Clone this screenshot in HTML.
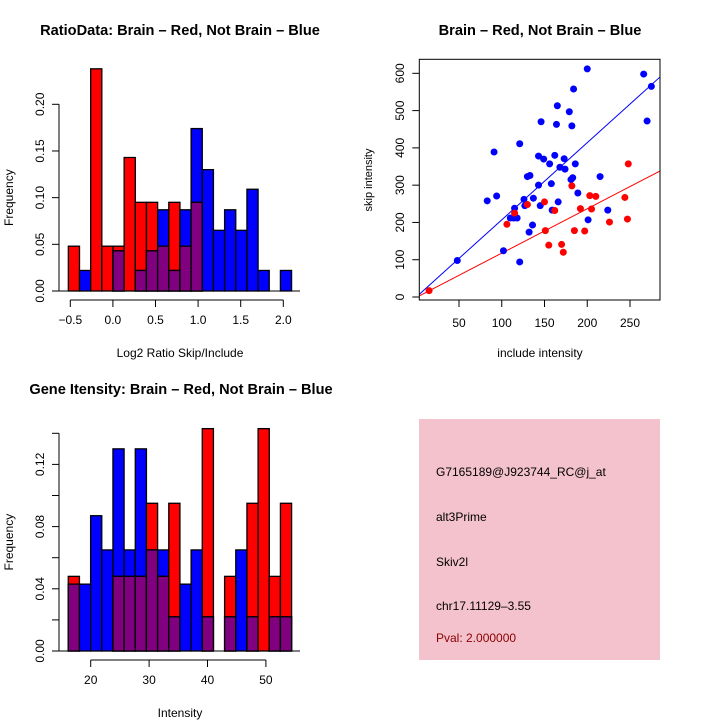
<!DOCTYPE html>
<html><head><meta charset="utf-8"><style>
html,body{margin:0;padding:0;background:#fff}
svg{display:block;font-family:"Liberation Sans",sans-serif}
</style></head><body>
<svg id="c" width="720" height="720" viewBox="0 0 720 720">
<rect width="720" height="720" fill="#fff"/>
<text x="180" y="35" text-anchor="middle" font-size="14.6" font-weight="bold">RatioData: Brain – Red, Not Brain – Blue</text>
<text x="540" y="35" text-anchor="middle" font-size="14.6" font-weight="bold">Brain – Red, Not Brain – Blue</text>
<text x="181" y="394" text-anchor="middle" font-size="14.6" font-weight="bold">Gene Itensity: Brain – Red, Not Brain – Blue</text>
<g id="g1"></g>
<g id="g2"></g>
<g id="g3"></g>
<g>
<rect x="419" y="419" width="241" height="241" fill="#f4c2cd"/>
<text x="436" y="476" font-size="12">G7165189@J923744_RC@j_at</text>
<text x="436" y="521" font-size="12">alt3Prime</text>
<text x="436" y="566" font-size="12">Skiv2l</text>
<text x="436" y="610" font-size="12">chr17.11129–3.55</text>
<text x="436" y="642" font-size="12" fill="#8b0000">Pval: 2.000000</text>
</g>
</svg>
<script>
// Ratio histogram data
const ratioRed=[0.048,0,0.238,0.048,0.048,0.143,0.095,0.095,0.048,0.095,0.048,0.095,0,0,0,0,0,0,0,0];
const ratioBlue=[0,0.022,0,0,0.043,0,0.022,0.043,0.087,0.022,0.087,0.174,0.13,0.065,0.087,0.065,0.109,0.022,0,0.022];
const ratioStart=-0.523, ratioBinW=0.131;
const ratioXTicks=[-0.5,0,0.5,1,1.5,2];
const ratioXLabels=["−0.5","0.0","0.5","1.0","1.5","2.0"];
const ratioYTicks=[0,0.05,0.1,0.15,0.2];
const ratioYLabels=["0.00","0.05","0.10","0.15","0.20"];
// Intensity histogram data
const intRed=[0.048,0,0,0,0.048,0.048,0.048,0.095,0.048,0.095,0,0,0.143,0,0.048,0,0.095,0.143,0.048,0.095];
const intBlue=[0.043,0.043,0.087,0.065,0.13,0.065,0.13,0.065,0.065,0.022,0.043,0.065,0.022,0,0.022,0.065,0.022,0,0.022,0.022];
const intStart=16.16, intBinW=1.912;
const intXTicks=[20,30,40,50];
const intXLabels=["20","30","40","50"];
const intYTicks=[0,0.02,0.04,0.06,0.08,0.1,0.12,0.14];
const intYLabels=["0.00","","0.04","","0.08","","0.12",""];
// Scatter data
const blueX=[200,266,275,184,165,179,146,164,182,270,121,91,143,162,149,173,156,168,174,186,130,133,215,183,181,158,143,189,94,83,126,137,166,145,127,115,159,224,110,118,114,201,136,132,102,48,121];
const blueY=[612,598,565,558,513,497,470,463,459,472,411,389,378,380,370,371,357,348,343,357,323,326,323,320,315,304,300,279,271,258,262,265,255,245,245,238,233,233,212,212,212,207,193,174,124,98,94];
const redX=[248,182,244,203,210,150,130,192,205,162,115,106,151,185,197,226,247,155,170,172,15];
const redY=[357,298,267,272,270,255,248,237,236,232,225,195,178,178,177,201,209,139,141,120,17];
const blueFit=[0,2.07]; // intercept, slope
const redFit=[-1.3,1.19];
const scXTicks=[50,100,150,200,250];
const scYTicks=[0,100,200,300,400,500,600];

const NS="http://www.w3.org/2000/svg";
function mk(p,t,a,name){const e=document.createElementNS(NS,t);for(const k in a)e.setAttribute(k,a[k]);


p.appendChild(e);return e;}

function hist(g,red,blue,start,bw,x,y,xt,xl,yt,yl,xAxisY,yTop,xlab,xlabY,pref){
  red.forEach((r,i)=>{
    const b=blue[i],x0=x(start+i*bw),x1=x(start+(i+1)*bw),w=x1-x0;
    const order=r>=b?[[r,'#ff0000',pref+'-red-bar'],[b,'#0000ff',pref+'-blue-bar']]:[[b,'#0000ff',pref+'-blue-bar'],[r,'#ff0000',pref+'-red-bar']];
    order.forEach(([v,c,n])=>{if(v>0)mk(g,'rect',{x:x0,y:y(v),width:w,height:y(0)-y(v),fill:c,stroke:'#000','stroke-width':1.3},n);});
    const m=Math.min(r,b);
    if(m>0)mk(g,'rect',{x:x0,y:y(m),width:w,height:y(0)-y(m),fill:'#800080',stroke:'#000','stroke-width':1.3},pref+'-overlap-bar');
  });
  mk(g,'line',{x1:59,x2:300,y1:y(0),y2:y(0),stroke:'#000'},pref+'-baseline');
  mk(g,'line',{x1:59,x2:59,y1:y(0),y2:y(yTop),stroke:'#000'},pref+'-y-axis');
  yt.forEach((v,i)=>{mk(g,'line',{x1:52,x2:59,y1:y(v),y2:y(v),stroke:'#000'},pref+'-y-tick');
    if(yl[i]){const t=mk(g,'text',{x:0,y:0,transform:`translate(44,${y(v)}) rotate(-90)`,'text-anchor':'middle','font-size':12},pref+'-y-tick-label');t.textContent=yl[i];}});
  mk(g,'line',{x1:x(xt[0]),x2:x(xt[xt.length-1]),y1:xAxisY,y2:xAxisY,stroke:'#000'},pref+'-x-axis');
  xt.forEach((v,i)=>{mk(g,'line',{x1:x(v),x2:x(v),y1:xAxisY,y2:xAxisY+7,stroke:'#000'},pref+'-x-tick');
    const t=mk(g,'text',{x:x(v),y:xAxisY+24,'text-anchor':'middle','font-size':12},pref+'-x-tick-label');t.textContent=xl[i];});
  const t=mk(g,'text',{x:180,y:xlabY,'text-anchor':'middle','font-size':12},pref+'-x-axis-title');t.textContent=xlab;
  const f=mk(g,'text',{x:0,y:0,transform:`translate(13,${(y(0)+y(yTop))/2}) rotate(-90)`,'text-anchor':'middle','font-size':12},pref+'-y-axis-title');f.textContent='Frequency';
}
const g1=document.getElementById('g1');
hist(g1,ratioRed,ratioBlue,ratioStart,ratioBinW,v=>70.3+(v+0.5)*85.2,v=>291-v*933.5,ratioXTicks,ratioXLabels,ratioYTicks,ratioYLabels,300,0.2,'Log2 Ratio Skip/Include',357,'ratio');
const g3=document.getElementById('g3');
hist(g3,intRed,intBlue,intStart,intBinW,v=>90.7+(v-20)*5.84,v=>651-v*1555,intXTicks,intXLabels,intYTicks,intYLabels,660,0.14,'Intensity',717,'intensity');

// scatter
const g2=document.getElementById('g2');
const sx=v=>459+(v-50)*0.855, sy=v=>297-v*0.3728;
const L=419.3,R=660,T=59.3,B=300;
const cp=mk(g2,'clipPath',{id:'sc'},'scatter-clip');mk(cp,'rect',{x:L,y:T,width:R-L,height:B-T},'scatter-clip-rect');
[[blueFit,'#0000ff','blue-fit-line'],[redFit,'#ff0000','red-fit-line']].forEach(([f,c,n])=>{
  const xa=0,xb=300;mk(g2,'line',{x1:sx(xa),y1:sy(f[0]+f[1]*xa),x2:sx(xb),y2:sy(f[0]+f[1]*xb),stroke:c,'stroke-width':1,'clip-path':'url(#sc)'},n);});
blueX.forEach((v,i)=>mk(g2,'circle',{cx:sx(v),cy:sy(blueY[i]),r:3.5,fill:'#0000ff'},'blue-point'));
redX.forEach((v,i)=>mk(g2,'circle',{cx:sx(v),cy:sy(redY[i]),r:3.5,fill:'#ff0000'},'red-point'));
mk(g2,'rect',{x:L,y:T,width:R-L,height:B-T,fill:'none',stroke:'#000'},'scatter-frame');
scXTicks.forEach(v=>{mk(g2,'line',{x1:sx(v),x2:sx(v),y1:B,y2:B+7,stroke:'#000'},'scatter-x-tick');
  const t=mk(g2,'text',{x:sx(v),y:B+27,'text-anchor':'middle','font-size':12},'scatter-x-tick-label');t.textContent=v;});
scYTicks.forEach(v=>{mk(g2,'line',{x1:L-7,x2:L,y1:sy(v),y2:sy(v),stroke:'#000'},'scatter-y-tick');
  const t=mk(g2,'text',{x:0,y:0,transform:`translate(404,${sy(v)}) rotate(-90)`,'text-anchor':'middle','font-size':12},'scatter-y-tick-label');t.textContent=v;});
const xt=mk(g2,'text',{x:540,y:357,'text-anchor':'middle','font-size':12},'scatter-x-axis-title');xt.textContent='include intensity';
const yt=mk(g2,'text',{x:0,y:0,transform:'translate(372,180) rotate(-90)','text-anchor':'middle','font-size':11},'scatter-y-axis-title');yt.textContent='skip intensity';
</script>
</body></html>
